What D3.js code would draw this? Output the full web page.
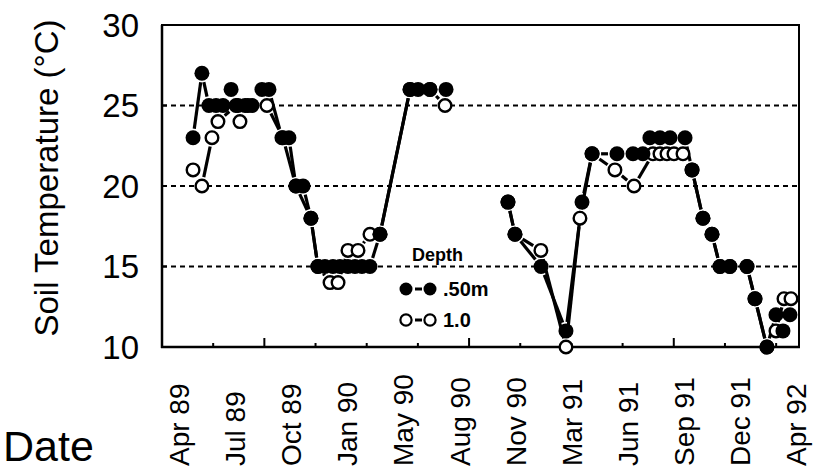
<!DOCTYPE html>
<html>
<head>
<meta charset="utf-8">
<script src="https://cdn.jsdelivr.net/npm/d3@7"></script>
<style>
  html, body { margin: 0; padding: 0; background: #fff; }
  svg { display: block; }
  text { font-family: "Liberation Sans", Arial, Helvetica, sans-serif; fill: #000; }
</style>
</head>
<body>
<svg id="chart" width="815" height="471"></svg>
<script>
// ---- data (x = months since 1 Apr 1989) ----
const months50 = [1.82, 2.34, 2.75, 3.17, 3.58, 4.05, 4.45, 4.87, 5.28, 5.86, 6.27, 7.03, 7.44, 7.85, 8.27, 8.73,
  9.14, 9.55, 10.02, 10.43, 10.90, 11.31, 11.72, 12.19, 12.78, 14.54, 15.01, 15.71, 16.65,
  20.28, 20.69, 22.22, 23.68, 24.62, 25.21, 26.67, 27.61, 28.19, 28.60, 29.19, 29.78, 30.66,
  31.07, 31.71, 32.24, 32.71, 33.29, 34.29, 34.76, 35.46, 35.99, 36.40, 36.81];
const temp50 = [23, 27, 25, 25, 25, 26, 25, 25, 25, 26, 26, 23, 23, 20, 20, 18,
  15, 15, 15, 15, 15, 15, 15, 15, 17, 26, 26, 26, 26,
  19, 17, 15, 11, 19, 22, 22, 22, 22, 23, 23, 23, 23,
  21, 18, 17, 15, 15, 15, 13, 10, 12, 11, 12];

const months100 = [1.82, 2.34, 2.93, 3.28, 4.34, 4.57, 5.04, 6.15, 7.09, 7.85, 8.73, 9.14, 9.85, 10.32, 10.90, 11.49, 12.19,
  12.78, 14.54, 15.71, 16.59,
  20.28, 20.69, 22.21, 23.68, 24.50, 25.21, 26.55, 27.67, 28.78, 29.19, 29.60, 30.01, 30.54,
  31.07, 31.71, 32.24, 32.71, 33.29, 34.29, 34.76, 35.46, 35.99, 36.46, 36.87];
const temp100 = [21, 20, 23, 24, 25, 24, 25, 25, 23, 20, 18, 15, 14, 14, 16, 16, 17,
  17, 26, 26, 25,
  19, 17, 16, 10, 18, 22, 21, 20, 22, 22, 22, 22, 22,
  21, 18, 17, 15, 15, 15, 13, 10, 11, 13, 13];

const xTickLabels = ["Apr 89", "Jul 89", "Oct 89", "Jan 90", "May 90", "Aug 90", "Nov 90",
  "Mar 91", "Jun 91", "Sep 91", "Dec 91", "Apr 92"];
const xTickMonths = [3, 6, 9, 12, 15, 18, 21, 24, 27, 30, 33, 36];
const xMajorMonths = [6, 18, 30];
const yTicks = [10, 15, 20, 25, 30];
const gridValues = [15, 20, 25];
const legendItems = [{ label: ".50m", filled: true }, { label: "1.0", filled: false }];

// ---- layout ----
const svg = d3.select("#chart");
const L = 162, R = 799, T = 25, B = 347;
const x = d3.scaleLinear().domain([0, 37.34]).range([L, R]);
const y = d3.scaleLinear().domain([10, 30]).range([B, T]);
const xLab = d3.scalePoint().domain(xTickLabels).range([179, 796]);

// gridlines
svg.append("g").selectAll("line").data(gridValues).join("line")
  .attr("x1", L).attr("x2", R).attr("y1", d => y(d)).attr("y2", d => y(d))
  .attr("stroke", "#000").attr("stroke-width", 2.2).attr("stroke-dasharray", "5,4");

// frame / axes
svg.append("rect").attr("x", L).attr("y", T).attr("width", R - L).attr("height", B - T)
  .attr("fill", "none").attr("stroke", "#000").attr("stroke-width", 2);
svg.append("line").attr("x1", L).attr("x2", L).attr("y1", T).attr("y2", B + 1)
  .attr("stroke", "#000").attr("stroke-width", 2.5);
svg.append("line").attr("x1", L - 1).attr("x2", R + 1).attr("y1", B).attr("y2", B)
  .attr("stroke", "#000").attr("stroke-width", 2.6);

// y ticks (inward) and labels
svg.append("g").selectAll("line").data(gridValues).join("line")
  .attr("x1", L).attr("x2", L + 5).attr("y1", d => y(d)).attr("y2", d => y(d))
  .attr("stroke", "#000").attr("stroke-width", 2);
svg.append("g").selectAll("text").data(yTicks).join("text")
  .attr("x", 139).attr("y", d => y(d)).attr("dy", "0.36em")
  .attr("text-anchor", "end").attr("font-size", 33).text(d => d);

// x ticks (inward)
svg.append("g").selectAll("line").data(xTickMonths).join("line")
  .attr("x1", d => x(d)).attr("x2", d => x(d))
  .attr("y1", B).attr("y2", d => B - (xMajorMonths.includes(d) ? 9 : 4))
  .attr("stroke", "#000").attr("stroke-width", 2);

// x tick labels (rotated)
svg.append("g").selectAll("text").data(xTickLabels).join("text")
  .attr("transform", d => `translate(${xLab(d)},466) rotate(-90)`)
  .attr("dy", "0.36em").attr("text-anchor", "start").attr("font-size", 28).text(d => d);

// axis titles
svg.append("text").attr("transform", "translate(58,178) rotate(-90)")
  .attr("text-anchor", "middle").attr("font-size", 33).text("Soil Temperature (°C)");
svg.append("text").attr("x", 3).attr("y", 461).attr("font-size", 43).text("Date");

// ---- series ----
function buildSeries(months, temps) {
  return months.map((m, i) => ({ m, t: temps[i] }));
}
const s50 = buildSeries(months50, temp50);
const s100 = buildSeries(months100, temp100);

function segments(series) {
  const segs = [];
  const gap = 9;
  for (let i = 1; i < series.length; i++) {
    const a = series[i - 1], b = series[i];
    if (b.m - a.m > 2.5) continue;
    const x1 = x(a.m), y1 = y(a.t), x2 = x(b.m), y2 = y(b.t);
    const d = Math.hypot(x2 - x1, y2 - y1);
    if (d <= 2 * gap + 1) continue;
    const ux = (x2 - x1) / d, uy = (y2 - y1) / d;
    segs.push({ x1: x1 + ux * gap, y1: y1 + uy * gap, x2: x2 - ux * gap, y2: y2 - uy * gap });
  }
  return segs;
}

const lineG = svg.append("g");
[s100, s50].forEach(s => {
  lineG.append("g").selectAll("line").data(segments(s)).join("line")
    .attr("x1", d => d.x1).attr("y1", d => d.y1).attr("x2", d => d.x2).attr("y2", d => d.y2)
    .attr("stroke", "#000").attr("stroke-width", 3.2).attr("stroke-linecap", "butt");
});

svg.append("g").selectAll("circle").data(s100).join("circle")
  .attr("cx", d => x(d.m)).attr("cy", d => y(d.t)).attr("r", 6.3)
  .attr("fill", "#fff").attr("stroke", "#000").attr("stroke-width", 2.4);
svg.append("g").selectAll("circle").data(s50).join("circle")
  .attr("cx", d => x(d.m)).attr("cy", d => y(d.t)).attr("r", 7.5)
  .attr("fill", "#000");

// ---- legend ----
const lg = svg.append("g");
lg.append("text").attr("x", 412).attr("y", 261).attr("font-size", 18).attr("font-weight", "bold").text("Depth");
const rows = lg.selectAll("g.row").data(legendItems).join("g").attr("class", "row")
  .attr("transform", (d, i) => `translate(0,${289 + i * 31})`);
rows.append("line").attr("x1", 415).attr("x2", 422).attr("y1", 0).attr("y2", 0)
  .attr("stroke", "#000").attr("stroke-width", 3);
rows.each(function(d) {
  const g = d3.select(this);
  [406, 430].forEach(cx => {
    if (d.filled) g.append("circle").attr("cx", cx).attr("cy", 0).attr("r", 6.5).attr("fill", "#000");
    else g.append("circle").attr("cx", cx).attr("cy", 0).attr("r", 5.6).attr("fill", "#fff")
      .attr("stroke", "#000").attr("stroke-width", 2.2);
  });
});
rows.append("text").attr("x", 443).attr("y", 0).attr("dy", "0.36em")
  .attr("font-size", 20).attr("font-weight", "bold").text(d => d.label);
</script>
</body>
</html>
